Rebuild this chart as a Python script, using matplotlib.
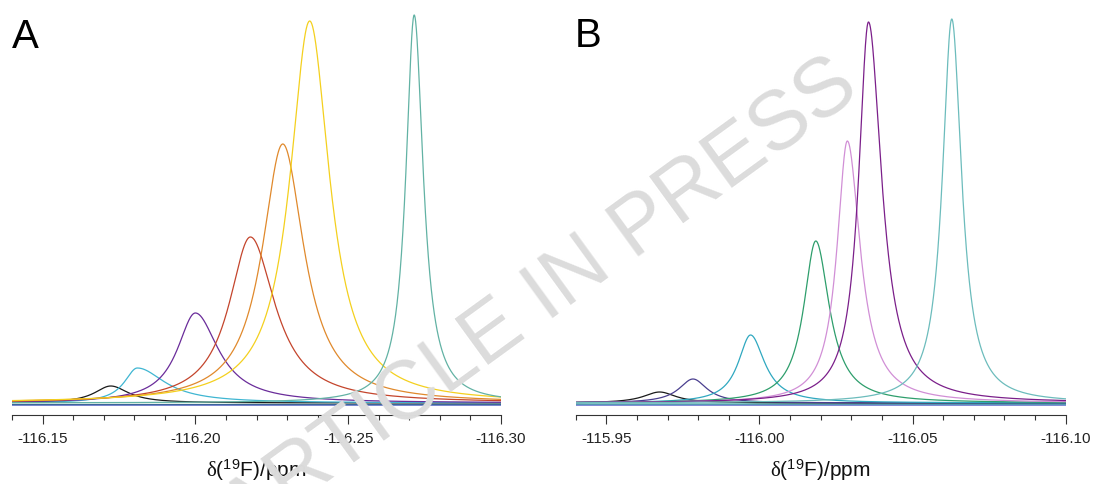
import numpy as np
import matplotlib
matplotlib.use("Agg")
import matplotlib.pyplot as plt
from matplotlib.ticker import MultipleLocator, FormatStrFormatter

plt.rcParams['font.family'] = ['Liberation Sans', 'DejaVu Sans']
plt.rcParams['mathtext.fontset'] = 'custom'
plt.rcParams['mathtext.rm'] = 'Liberation Sans'
plt.rcParams['mathtext.it'] = 'Liberation Serif'

# ── Panel A peaks (ppm, height in arbitrary units, half widths in ppm) ───────
A_colors  = ['#3d9a5a', '#3a48c0', '#1a1a1a', '#3fb6d2', '#6a2c9a',
             '#c4452c', '#e0892c', '#f4d01e', '#62b2a4']
A_centers = [-116.20, -116.25, -116.1723, -116.1810, -116.2000,
             -116.2180, -116.2286, -116.2374, -116.2716]
A_heights = [0, 0, 17, 35, 90, 166, 259, 382, 388]
A_hw_left  = [0.008, 0.008, 0.0065, 0.0052, 0.0072, 0.0085, 0.0082, 0.0078, 0.0033]
A_hw_right = [0.008, 0.008, 0.0072, 0.0110, 0.0092, 0.0098, 0.0085, 0.0079, 0.0036]
A_offsets  = [-1.5, -2.0, 0, 0, 0, 0, 0, 0, 0]

# ── Panel B peaks ─────────────────────────────────────────────────────────────
B_colors  = ['#3a48c0', '#3aa0a0', '#1a1a1a', '#4a3f8f', '#2fa8c0',
             '#2e9e6c', '#d18fd6', '#7b1f8a', '#6cbcbc']
B_centers = [-116.02, -116.05, -115.9674, -115.9783, -115.9971,
             -116.0184, -116.0287, -116.0356, -116.0628]
B_heights = [0, 0, 11, 24, 68, 162, 262, 381, 384]
B_hw_left  = [0.005, 0.005, 0.0065, 0.0056, 0.0049, 0.0048, 0.0041, 0.0039, 0.0037]
B_hw_right = [0.005, 0.005, 0.0065, 0.0056, 0.0056, 0.0054, 0.0051, 0.0052, 0.0039]
B_offsets  = [-2.0, -1.0, 0, 0, 0, 0, 0, 0, 0]

A_xlim = (-116.14, -116.30)
B_xlim = (-115.94, -116.10)


def lorentz(x, c, h, wl, wr):
    w = np.where(x > c, wl, wr)   # axis is reversed: larger ppm is on the left
    return h / (1 + ((x - c) / w) ** 2)


W, H = 1114, 484
fig = plt.figure(figsize=(W / 100, H / 100), dpi=100)

def make_axes(left_px, right_px):
    bottom_px, top_px = 415, 8
    return fig.add_axes([left_px / W, 1 - bottom_px / H,
                         (right_px - left_px) / W, (bottom_px - top_px) / H])

axA = make_axes(12, 501)
axB = make_axes(575.7, 1065.7)

for ax, xlim, cols, cens, hts, wl, wr, offs in [
        (axA, A_xlim, A_colors, A_centers, A_heights, A_hw_left, A_hw_right, A_offsets),
        (axB, B_xlim, B_colors, B_centers, B_heights, B_hw_left, B_hw_right, B_offsets)]:
    x = np.linspace(xlim[0], xlim[1], 2000)
    for col, c, h, l, r, o in zip(cols, cens, hts, wl, wr, offs):
        ax.plot(x, lorentz(x, c, h, l, r) + o, color=col, lw=0.9)
    ax.set_xlim(*xlim)
    ax.set_ylim(-12, 395)
    for s in ['top', 'right', 'left']:
        ax.spines[s].set_visible(False)
    ax.spines['bottom'].set_color('#333333')
    ax.spines['bottom'].set_linewidth(0.8)
    ax.set_yticks([])
    ax.xaxis.set_major_locator(MultipleLocator(0.05))
    ax.xaxis.set_minor_locator(MultipleLocator(0.01))
    ax.xaxis.set_major_formatter(FormatStrFormatter('%.2f'))
    ax.tick_params(axis='x', which='major', length=6.3, width=0.8,
                   color='#333333', labelsize=11, pad=6, labelcolor='#222222')
    ax.tick_params(axis='x', which='minor', length=3.4, width=0.8, color='#333333')
    ax.set_xlabel(r'$\delta$($^{19}$F)/ppm', fontsize=15, labelpad=8.5, color='#111111')
    ax.patch.set_visible(False)

fig.text(12 / W, 1 - 48 / H, 'A', fontsize=29, va='baseline', ha='left')
fig.text(575 / W, 1 - 47 / H, 'B', fontsize=29, va='baseline', ha='left')

fig.text(540 / W, 1 - 300 / H, 'ARTICLE IN PRESS', fontsize=60, color='#dcdcdc',
         rotation=36, ha='center', va='center', rotation_mode='anchor', zorder=10)

fig.savefig('out.png', dpi=100)
